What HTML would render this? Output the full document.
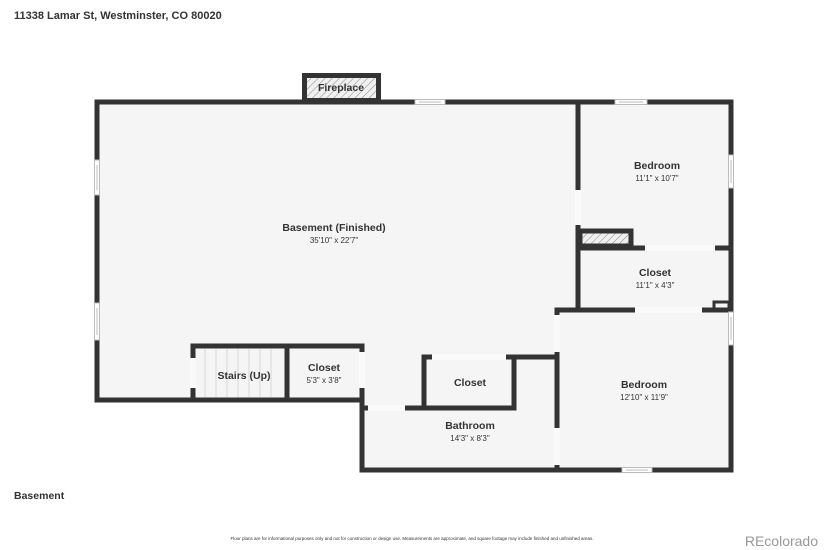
<!DOCTYPE html>
<html><head><meta charset="utf-8"><style>
html,body{margin:0;padding:0;background:#fff;}
svg{display:block;font-family:"Liberation Sans",sans-serif;}
.t{font-weight:bold;font-size:10.5px;fill:#333;text-anchor:middle;}
.d{font-size:8px;fill:#333;text-anchor:middle;}
</style></head><body>
<svg width="825" height="550" viewBox="0 0 825 550" xmlns="http://www.w3.org/2000/svg">
<defs>
<pattern id="h" width="5" height="5" patternUnits="userSpaceOnUse" patternTransform="rotate(45)">
<rect width="5" height="5" fill="#f0f0f0"/><line x1="0" y1="0" x2="0" y2="5" stroke="#888" stroke-width="1"/>
</pattern>
</defs>
<text x="14" y="19" style="font-weight:bold;font-size:11px;fill:#333">11338 Lamar St, Westminster, CO 80020</text>
<polygon points="97,102 731,102 731,470 362,470 362,400 97,400" fill="#f5f5f5"/>
<rect x="304" y="75" width="75" height="25" fill="url(#h)"/>
<rect x="580" y="232" width="50" height="14" fill="url(#h)"/>
<g stroke="#333" stroke-width="5" fill="none" stroke-linecap="square">
<rect x="304.5" y="75.5" width="74" height="25"/>
<polyline points="97,400 97,102 731,102 731,470 362,470 362,346 193,346 193,400 362,400"/>
<line x1="97" y1="400" x2="193" y2="400"/>
<line x1="287" y1="346" x2="287" y2="400"/>
<line x1="362" y1="408" x2="514" y2="408"/>
<polyline points="424,408 424,357 514,357 514,408"/>
<line x1="514" y1="357" x2="557" y2="357"/>
<line x1="557" y1="310" x2="557" y2="470"/>
<line x1="578" y1="102" x2="578" y2="310"/>
<line x1="578" y1="248" x2="731" y2="248"/>
<rect x="580" y="231" width="51" height="15"/>
<line x1="557" y1="310" x2="731" y2="310"/>
<rect x="714" y="302" width="15" height="7" stroke-width="3"/>
</g>
<g stroke="#d8d8d8" stroke-width="1">
<line x1="205" y1="349" x2="205" y2="397"/><line x1="216" y1="349" x2="216" y2="397"/>
<line x1="227" y1="349" x2="227" y2="397"/><line x1="238" y1="349" x2="238" y2="397"/>
<line x1="249" y1="349" x2="249" y2="397"/><line x1="260" y1="349" x2="260" y2="397"/>
<line x1="271" y1="349" x2="271" y2="397"/>
</g>
<g fill="#fafafa">
<rect x="190" y="358" width="6" height="30"/>
<rect x="359" y="352" width="6" height="36"/>
<rect x="368" y="405" width="37" height="6"/>
<rect x="432" y="354" width="74" height="6"/>
<rect x="554" y="315" width="6" height="37"/>
<rect x="554" y="428" width="6" height="37"/>
<rect x="575" y="190" width="6" height="35"/>
<rect x="645" y="245" width="70" height="6"/>
<rect x="635" y="307" width="67" height="6"/>
</g>
<g fill="#fff" stroke="#bbb" stroke-width="1">
<rect x="415" y="99.5" width="30" height="5"/>
<rect x="94.5" y="160" width="5" height="35"/>
<rect x="94.5" y="303" width="5" height="37"/>
<rect x="615" y="99.5" width="32" height="5"/>
<rect x="728.5" y="155" width="5" height="33"/>
<rect x="728.5" y="312" width="5" height="33"/>
<rect x="622" y="467.5" width="30" height="5"/>
</g>
<g fill="#ddd"><rect x="419" y="101" width="22" height="2"/><rect x="619" y="101" width="24" height="2"/>
<rect x="96" y="165" width="2" height="25"/><rect x="96" y="308" width="2" height="27"/>
<rect x="730" y="160" width="2" height="23"/><rect x="730" y="317" width="2" height="23"/><rect x="626" y="469" width="22" height="2"/></g>
<text x="341" y="91" class="t">Fireplace</text>
<text x="334" y="231" class="t">Basement (Finished)</text><text x="334" y="243" class="d">35'10" x 22'7"</text>
<text x="657" y="169" class="t">Bedroom</text><text x="657" y="181" class="d">11'1" x 10'7"</text>
<text x="655" y="276" class="t">Closet</text><text x="655" y="288" class="d">11'1" x 4'3"</text>
<text x="644" y="388" class="t">Bedroom</text><text x="644" y="400" class="d">12'10" x 11'9"</text>
<text x="244" y="379" class="t">Stairs (Up)</text>
<text x="324" y="371" class="t">Closet</text><text x="324" y="383" class="d">5'3" x 3'8"</text>
<text x="470" y="386" class="t">Closet</text>
<text x="470" y="429" class="t">Bathroom</text><text x="470" y="441" class="d">14'3" x 8'3"</text>
<text x="14" y="499" style="font-weight:bold;font-size:10.5px;fill:#333">Basement</text>
<text x="412" y="540" style="font-size:4.5px;fill:#333" text-anchor="middle">Floor plans are for informational purposes only and not for construction or design use. Measurements are approximate, and square footage may include finished and unfinished areas.</text>
<text x="818" y="546" style="font-size:14px;fill:#999" text-anchor="end">REcolorado</text>
</svg>
</body></html>
